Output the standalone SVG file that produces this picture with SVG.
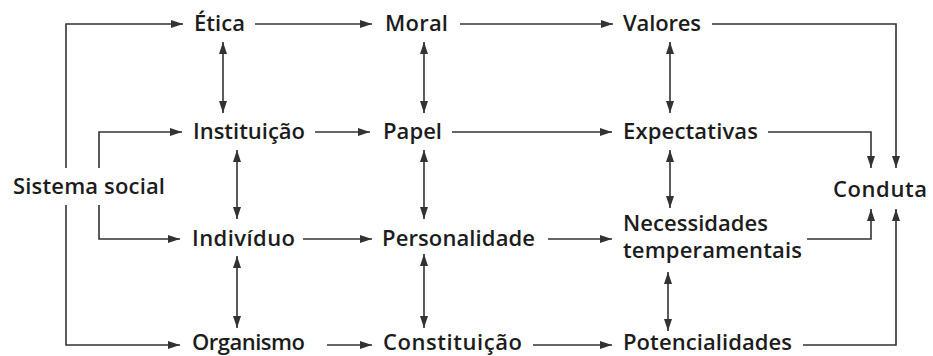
<svg xmlns="http://www.w3.org/2000/svg" width="933" height="356" viewBox="0 0 933 356">
<style>
.t{font-family:"Open Sans","Noto Sans","Liberation Sans",sans-serif;font-size:22px;font-weight:600;fill:#1c1c1c}
.c{fill:none;stroke:#333;stroke-width:1.6}
</style>
<defs>
<marker id="ah" viewBox="0 0 12 8" refX="12" refY="4" markerWidth="12" markerHeight="8" markerUnits="userSpaceOnUse" orient="auto-start-reverse">
<path d="M0,0 L12,4 L0,8 Z" fill="#333"/>
</marker>
</defs>
<rect width="933" height="356" fill="#fff"/>
<g id="connectors">
<path class="c" d="M255,24 H372" marker-end="url(#ah)"/>
<path class="c" d="M460,24 H613" marker-end="url(#ah)"/>
<path class="c" d="M712,24 H896 V168" marker-end="url(#ah)"/>
<path class="c" d="M66,168 V24 H183" marker-end="url(#ah)"/>
<path class="c" d="M99,168 V132 H182" marker-end="url(#ah)"/>
<path class="c" d="M315,132 H370" marker-end="url(#ah)"/>
<path class="c" d="M452,132 H612" marker-end="url(#ah)"/>
<path class="c" d="M768,132 H871 V168" marker-end="url(#ah)"/>
<path class="c" d="M99,205 V239 H180" marker-end="url(#ah)"/>
<path class="c" d="M303,239 H372" marker-end="url(#ah)"/>
<path class="c" d="M548,239 H612" marker-end="url(#ah)"/>
<path class="c" d="M807,239 H871 V209" marker-end="url(#ah)"/>
<path class="c" d="M66,205 V345 H180" marker-end="url(#ah)"/>
<path class="c" d="M327,345 H372" marker-end="url(#ah)"/>
<path class="c" d="M533,345 H612" marker-end="url(#ah)"/>
<path class="c" d="M803,345 H896 V209" marker-end="url(#ah)"/>
<path class="c" d="M223,42 V113" marker-start="url(#ah)" marker-end="url(#ah)"/>
<path class="c" d="M237,150 V219" marker-start="url(#ah)" marker-end="url(#ah)"/>
<path class="c" d="M237,256 V328" marker-start="url(#ah)" marker-end="url(#ah)"/>
<path class="c" d="M424,42 V113" marker-start="url(#ah)" marker-end="url(#ah)"/>
<path class="c" d="M424,150 V219" marker-start="url(#ah)" marker-end="url(#ah)"/>
<path class="c" d="M424,254 V328" marker-start="url(#ah)" marker-end="url(#ah)"/>
<path class="c" d="M670,42 V113" marker-start="url(#ah)" marker-end="url(#ah)"/>
<path class="c" d="M670,150 V208" marker-start="url(#ah)" marker-end="url(#ah)"/>
<path class="c" d="M668,272 V331" marker-start="url(#ah)" marker-end="url(#ah)"/>
</g>
<g id="etica"><text class="t" x="194" y="31" textLength="51" lengthAdjust="spacing">Ética</text></g>
<g id="moral"><text class="t" x="385" y="31" textLength="63" lengthAdjust="spacing">Moral</text></g>
<g id="valores"><text class="t" x="623" y="31" textLength="78" lengthAdjust="spacing">Valores</text></g>
<g id="instituicao"><text class="t" x="193" y="139" textLength="112" lengthAdjust="spacing">Instituição</text></g>
<g id="papel"><text class="t" x="383" y="139" textLength="59" lengthAdjust="spacing">Papel</text></g>
<g id="expectativas"><text class="t" x="623" y="139" textLength="135" lengthAdjust="spacing">Expectativas</text></g>
<g id="sistema-social"><text class="t" x="13" y="194" textLength="152" lengthAdjust="spacing">Sistema social</text></g>
<g id="conduta"><text class="t" x="833" y="197" textLength="94" lengthAdjust="spacing">Conduta</text></g>
<g id="individuo"><text class="t" x="192" y="246" textLength="103" lengthAdjust="spacing">Indivíduo</text></g>
<g id="personalidade"><text class="t" x="382" y="246" textLength="153" lengthAdjust="spacing">Personalidade</text></g>
<g id="necessidades"><text class="t" x="623" y="231" textLength="145" lengthAdjust="spacing">Necessidades</text><text class="t" x="623" y="258" textLength="179" lengthAdjust="spacing">temperamentais</text></g>
<g id="organismo"><text class="t" x="192" y="350" textLength="113" lengthAdjust="spacing">Organismo</text></g>
<g id="constituicao"><text class="t" x="383" y="350" textLength="139" lengthAdjust="spacing">Constituição</text></g>
<g id="potencialidades"><text class="t" x="623" y="350" textLength="169" lengthAdjust="spacing">Potencialidades</text></g>
</svg>
